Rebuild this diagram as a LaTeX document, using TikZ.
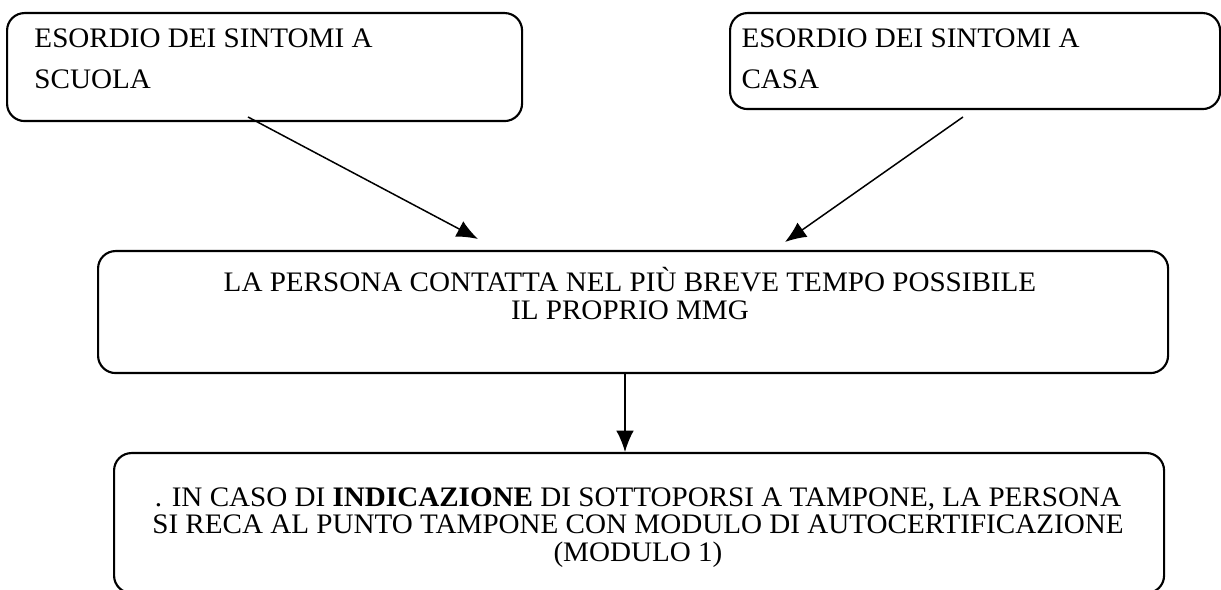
\documentclass[tikz,border=0pt]{standalone}
\usepackage{fontspec}
\setmainfont{Liberation Serif}[FakeStretch=1.03]
\usetikzlibrary{arrows.meta,calc,positioning}
\tikzset{%
	startstop/.style = {draw, rectangle, rounded corners=7pt, line width=0.85pt}, % box
	boxtext/.style   = {inner sep=0pt, font=\fontsize{11.3}{16.5}\selectfont}, % text in the top boxes
	midtext/.style   = {inner sep=0pt, align=center, font=\fontsize{11.3}{11}\selectfont}, % centred text
	arrow/.style     = {line width=0.6pt, -{Latex[length=8.5pt,width=7pt]}},
}

\begin{document}
\begin{tikzpicture}[x=0.4pt, y=-0.4pt]
	\useasboundingbox (0,0) rectangle (1221,590);
	% boxes
	\node[startstop, anchor=north west, minimum width=206pt, minimum height=43.2pt] (scuola) at (6,12) {};
	\node[startstop, anchor=north west, minimum width=196pt, minimum height=38.4pt] (casa) at (729,12) {};
	\node[startstop, anchor=north west, minimum width=428pt, minimum height=48.8pt] (mmg) at (97,250) {};
	\node[startstop, anchor=north west, minimum width=420pt, minimum height=56pt] (tampone) at (113,452) {};
	% texts
	\node[boxtext, anchor=north west, align=left] (scuolatxt) at (34,28) {ESORDIO DEI SINTOMI A\\SCUOLA};
	\node[boxtext, anchor=north west, align=left] (casatxt) at (741,28) {ESORDIO DEI SINTOMI A\\CASA};
	\node[midtext, anchor=north] (mmgtxt) at (630,267) {LA PERSONA CONTATTA NEL PIÙ BREVE TEMPO POSSIBILE\\IL PROPRIO MMG};
	\node[midtext, anchor=north] (tamponetxt) at (638,487) {. IN CASO DI \textbf{INDICAZIONE} DI SOTTOPORSI A TAMPONE, LA PERSONA\\SI RECA AL PUNTO TAMPONE CON MODULO DI AUTOCERTIFICAZIONE\\(MODULO 1)};
	% arrows
	\coordinate (s1) at (248,117);
	\coordinate (e1) at (478,239);
	\coordinate (s2) at (963,117);
	\coordinate (e2) at (785,242);
	\coordinate (c1) at (625,0);
	\draw[arrow] (s1) -- (e1);
	\draw[arrow] (s2) -- (e2);
	\draw[arrow] (mmg.south -| c1) -- (tampone.north -| c1);
\end{tikzpicture}
\end{document}
